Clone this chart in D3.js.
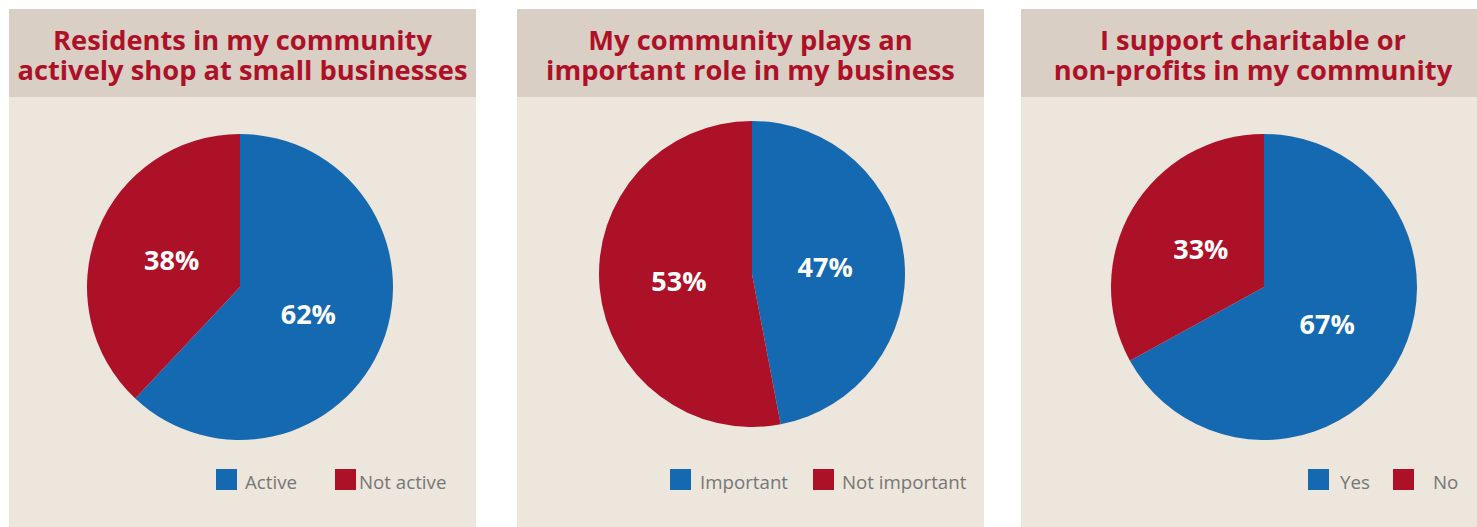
<!DOCTYPE html>
<html><head><meta charset="utf-8">
<script src="https://cdn.jsdelivr.net/npm/d3@7"></script>
<style>html,body{margin:0;padding:0;background:#fff;}svg{display:block;}</style>
</head><body>
<svg id="c" width="1477" height="527"></svg>
<script>
// ---- data ----
const titles = [
  ["Residents in my community", "actively shop at small businesses"],
  ["My community plays an", "important role in my business"],
  ["I support charitable or", "non-profits in my community"]
];
const categories = [
  ["Active", "Not active"],
  ["Important", "Not important"],
  ["Yes", "No"]
];
const values = [
  [62, 38],
  [47, 53],
  [67, 33]
];

// ---- layout ----
const W = 1477, H = 527;
const panelX = [9, 517, 1021];
const panelW = [467, 467, 456];
const pieCX = [240, 752, 1264];
const pieCY = [287, 274, 287];
const R = 153;
const legendSquareX = [[216, 335], [670, 813], [1308, 1393]];
const legendTextX = [[245, 359], [700, 842], [1340, 1433]];
const colors = ["#1569b0", "#ad1128"];

const svg = d3.select("#c");
const pie = d3.pie().sort(null).value(d => d);
const arc = d3.arc().innerRadius(0).outerRadius(R);
const labelArc = d3.arc().innerRadius(R * 0.48).outerRadius(R * 0.48);
const color = d3.scaleOrdinal().domain([0, 1]).range(colors);

titles.forEach((t, i) => {
  const g = svg.append("g");
  g.append("rect").attr("x", panelX[i]).attr("y", 9).attr("width", panelW[i]).attr("height", 88).attr("fill", "#d9cfc4");
  g.append("rect").attr("x", panelX[i]).attr("y", 97).attr("width", panelW[i]).attr("height", H - 97).attr("fill", "#ede6dd");
  const cxT = panelX[i] + panelW[i] / 2 + (i === 2 ? 4 : 0);
  g.selectAll("text.title").data(t).join("text")
    .attr("class", "title")
    .attr("x", cxT).attr("y", (d, j) => 50 + j * 30)
    .attr("text-anchor", "middle")
    .attr("font-family", "'Open Sans', sans-serif").attr("font-weight", 700)
    .attr("font-size", 27.3).attr("fill", "#ad1128")
    .text(d => d);

  const pg = g.append("g").attr("transform", `translate(${pieCX[i]},${pieCY[i]})`);
  const arcs = pie(values[i]);
  pg.selectAll("path").data(arcs).join("path")
    .attr("d", arc).attr("fill", (d, j) => color(j));
  pg.selectAll("text").data(arcs).join("text")
    .attr("transform", d => `translate(${labelArc.centroid(d)})`)
    .attr("text-anchor", "middle").attr("dy", "0.36em")
    .attr("font-family", "'Open Sans', sans-serif").attr("font-weight", 700)
    .attr("font-size", 27).attr("fill", "#fff")
    .text(d => d.data + "%");

  categories[i].forEach((c, j) => {
    g.append("rect").attr("x", legendSquareX[i][j]).attr("y", 469).attr("width", 21).attr("height", 21).attr("fill", color(j));
    g.append("text").attr("x", legendTextX[i][j]).attr("y", 489)
      .attr("font-family", "'Open Sans', sans-serif").attr("font-size", 18.7).attr("fill", "#767676")
      .text(c);
  });
});
</script>
</body></html>
